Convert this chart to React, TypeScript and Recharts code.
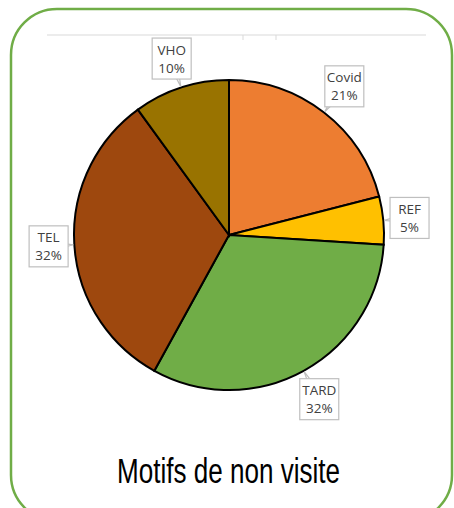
import { PieChart, Pie, Cell } from "recharts";

const motifs = ["Covid", "REF", "TARD", "TEL", "VHO"];
const parts = [21, 5, 32, 32, 10];
const colors = ["#ED7D31", "#FFC000", "#70AD47", "#9E480E", "#997300"];

const data = motifs.map((name, i) => ({ name, value: parts[i] }));

const RAD = Math.PI / 180;
const BOX_W = 39;
const BOX_H = 41;

const CalloutLabel = (props: any) => {
  const { cx, cy, midAngle, outerRadius, name, value } = props;
  const cos = Math.cos(-midAngle * RAD);
  const sin = Math.sin(-midAngle * RAD);
  const ext = (Math.abs(cos) * BOX_W) / 2 + (Math.abs(sin) * BOX_H) / 2;
  const d = outerRadius + 5 + ext;
  const bx = cx + d * cos;
  const by = cy + d * sin;
  const tx = cx + (outerRadius + 1) * cos;
  const ty = cy + (outerRadius + 1) * sin;
  const px = -sin * 5;
  const py = cos * 5;

  return (
    <g>
      <polygon
        points={`${bx + px},${by + py} ${tx},${ty} ${bx - px},${by - py}`}
        fill="#fff"
        stroke="#BFBFBF"
        strokeWidth={1.2}
      />
      <rect
        x={bx - BOX_W / 2}
        y={by - BOX_H / 2}
        width={BOX_W}
        height={BOX_H}
        fill="#fff"
        stroke="#BFBFBF"
        strokeWidth={1.2}
      />
      <text
        x={bx}
        y={by - 4}
        textAnchor="middle"
        fill="#404040"
        fontSize={13.5}
        fontFamily="'Open Sans', sans-serif"
      >
        {name}
      </text>
      <text
        x={bx}
        y={by + 14}
        textAnchor="middle"
        fill="#404040"
        fontSize={13.5}
        fontFamily="'Open Sans', sans-serif"
      >
        {value}%
      </text>
    </g>
  );
};

const App = () => {
  return (
    <div style={{ position: "absolute", left: 0, top: 0, width: 454, height: 508, background: "#fff", overflow: "hidden" }}>
      <svg width={454} height={508} style={{ position: "absolute", left: 0, top: 0 }}>
        <rect x={11} y={9} width={441} height={512} rx={46} ry={46} fill="none" stroke="#70AD47" strokeWidth={2.5} />
        <line x1={47} y1={35} x2={426} y2={35} stroke="#D9D9D9" strokeWidth={1} />
        <line x1={243} y1={35} x2={243} y2={40} stroke="#D9D9D9" strokeWidth={1} />
        <line x1={276} y1={35} x2={276} y2={40} stroke="#D9D9D9" strokeWidth={1} />
        <text
          x={228.5}
          y={483}
          textAnchor="middle"
          fontSize={35}
          fontFamily="'Liberation Sans', Arial, sans-serif"
          textLength={223}
          lengthAdjust="spacingAndGlyphs"
          fill="#000"
        >
          Motifs de non visite
        </text>
      </svg>
      <div style={{ position: "absolute", left: 0, top: 0 }}>
        <PieChart width={454} height={508} margin={{ top: 0, right: 0, bottom: 0, left: 0 }}>
          <Pie
            data={data}
            dataKey="value"
            nameKey="name"
            cx={229}
            cy={235}
            outerRadius={155}
            startAngle={90}
            endAngle={-270}
            stroke="#000"
            strokeWidth={2}
            label={CalloutLabel}
            labelLine={false}
            isAnimationActive={false}
          >
            {data.map((d, i) => (
              <Cell key={d.name} fill={colors[i]} />
            ))}
          </Pie>
        </PieChart>
      </div>
    </div>
  );
};

export default App;
